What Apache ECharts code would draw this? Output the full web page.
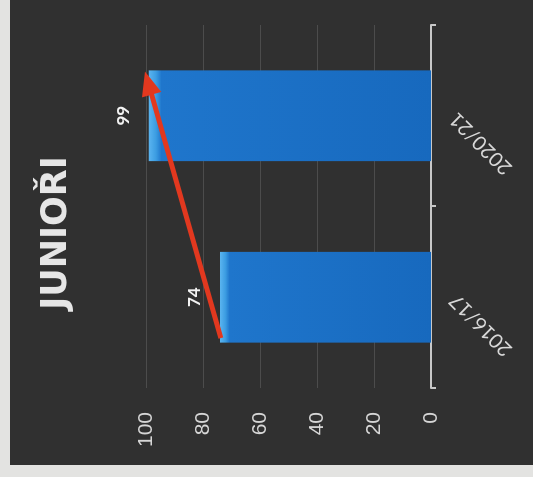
<!DOCTYPE html>
<html><head><meta charset="utf-8">
<script src="https://cdn.jsdelivr.net/npm/echarts@6/dist/echarts.min.js"></script>
<style>
html,body{margin:0;padding:0;width:533px;height:477px;overflow:hidden;background:#e3e3e1;}
#panel{position:absolute;left:10px;top:0;width:523px;height:465px;background:#303030;}
#chart{position:absolute;left:0;top:0;width:477px;height:533px;transform-origin:0 0;transform:translateY(477px) rotate(-90deg);}
</style></head><body>
<div id="panel"></div><div id="chart"></div>
<script>
// Chart data
const titleText = 'JUNIOŘI';
const categories = ['2016/17', '2020/21'];
const values = [74, 99];
const valueMin = 0, valueMax = 100, valueStep = 20;
// red trend arrow: [category position, value]
const arrowStart = [-0.225, 73.7];
const arrowEnd = [1.18, 99.2];

const chart = echarts.init(document.getElementById('chart'), null, {renderer: 'canvas'});
chart.setOption({
  animation: false,
  backgroundColor: 'transparent',
  graphic: [{
    type: 'text', x: 244, y: 57,
    style: {text: titleText, align: 'center', verticalAlign: 'middle',
      font: 'bold 35px "DejaVu Sans"', fill: '#e6e6e6'}
  }],
  grid: {left: 89, right: 25, top: 146, bottom: 102},
  xAxis: [{
    type: 'category', data: categories, position: 'bottom',
    axisLine: {lineStyle: {color: '#c8c8c8', width: 2}},
    axisTick: {show: true, length: 5, lineStyle: {color: '#c8c8c8', width: 2}},
    axisLabel: {rotate: 45, fontSize: 20, color: '#d8d8d8', margin: 22, fontFamily: 'Lato'},
    splitLine: {show: false}
  }, {
    type: 'value', min: -0.5, max: 1.5, show: false
  }],
  yAxis: {
    type: 'value', min: valueMin, max: valueMax, interval: valueStep,
    axisLine: {show: false}, axisTick: {show: false},
    axisLabel: {fontSize: 21, color: '#d6d6d6', margin: 24, fontFamily: 'Liberation Sans'},
    splitLine: {lineStyle: {color: '#4c4c4c', width: 1}}
  },
  series: [{
    type: 'bar', data: values, barWidth: '50%', xAxisIndex: 0,
    itemStyle: {color: {type: 'linear', x: 0, y: 0, x2: 0, y2: 1, colorStops: [
      {offset: 0, color: '#5ab4f0'}, {offset: 0.025, color: '#3c9de2'},
      {offset: 0.045, color: '#1f76cc'}, {offset: 1, color: '#1769be'}]}},
    label: {show: true, position: 'top', distance: 17, color: '#f2f2f2',
      fontWeight: 'bold', fontSize: 17, fontFamily: 'Lato'},
    silent: true
  }, {
    type: 'line', xAxisIndex: 1, data: [arrowStart, arrowEnd],
    symbol: 'none', lineStyle: {opacity: 0}, silent: true,
    markLine: {
      silent: true, symbol: ['none', 'triangle'], symbolSize: [20, 24],
      label: {show: false},
      lineStyle: {color: '#e2381f', width: 5, type: 'solid'},
      data: [[{coord: arrowStart}, {coord: arrowEnd}]]
    }
  }]
});
</script></body></html>
